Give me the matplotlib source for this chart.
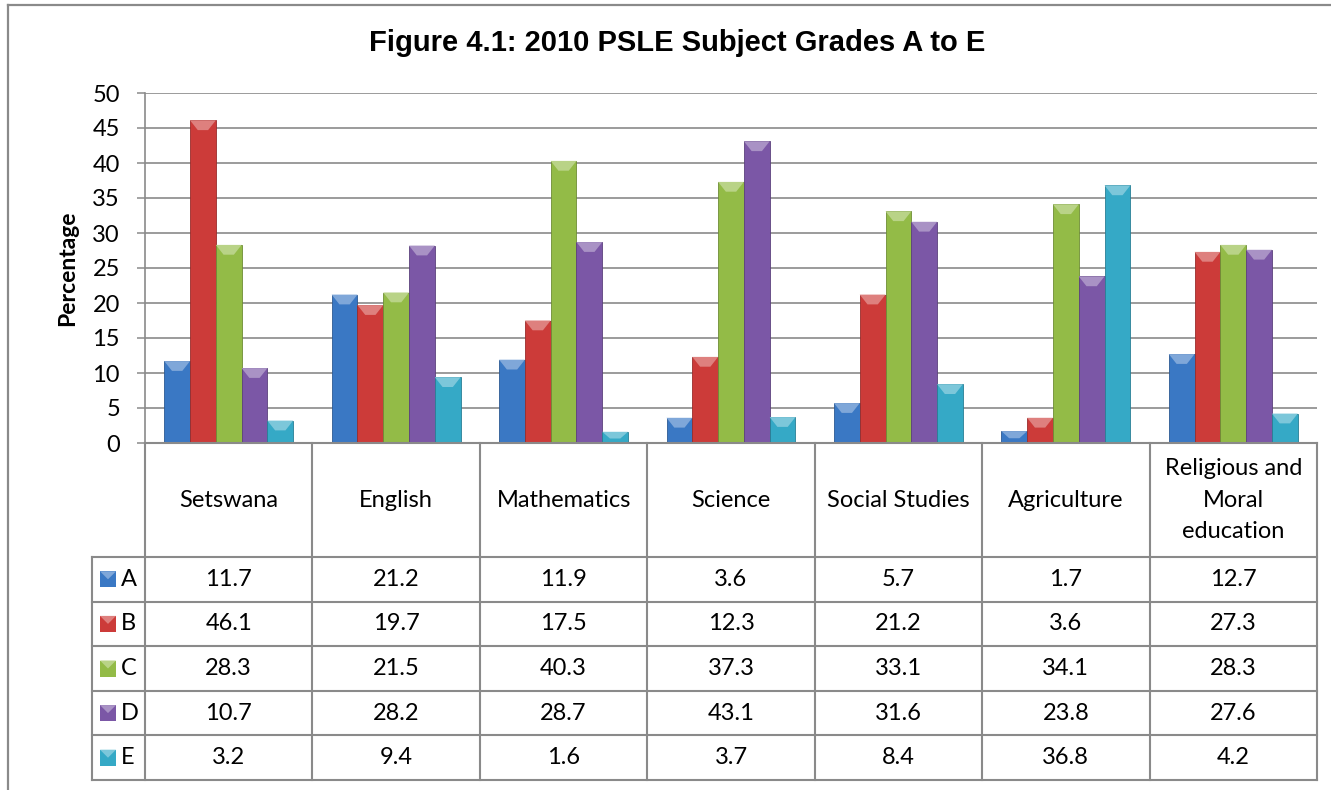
import numpy as np
import matplotlib
matplotlib.use('Agg')
import matplotlib.pyplot as plt
from matplotlib.patches import Rectangle, Polygon
from matplotlib.lines import Line2D
from matplotlib.colors import to_rgb

# data
subjects = ['Setswana', 'English', 'Mathematics', 'Science', 'Social Studies',
            'Agriculture', 'Religious and\nMoral\neducation']
grades = ['A', 'B', 'C', 'D', 'E']
grade_A = [11.7, 21.2, 11.9, 3.6, 5.7, 1.7, 12.7]
grade_B = [46.1, 19.7, 17.5, 12.3, 21.2, 3.6, 27.3]
grade_C = [28.3, 21.5, 40.3, 37.3, 33.1, 34.1, 28.3]
grade_D = [10.7, 28.2, 28.7, 43.1, 31.6, 23.8, 27.6]
grade_E = [3.2, 9.4, 1.6, 3.7, 8.4, 36.8, 4.2]
yticks = [0, 5, 10, 15, 20, 25, 30, 35, 40, 45, 50]

series = [grade_A, grade_B, grade_C, grade_D, grade_E]
colors = ['#3a78c4', '#cc3b39', '#93bb47', '#7b57a6', '#35a9c6']

plt.rcParams['font.family'] = ['Lato', 'DejaVu Sans']
grid_col = '#8a8a8a'
fs = 17

W, H = 1331, 790
def fx(px):
    return px / W
def fy(py):
    return 1 - py / H

fig = plt.figure(figsize=(W / 100, H / 100), dpi=100)

def lighter(c, f):
    r, g, b = to_rgb(c)
    return (r + (1 - r) * f, g + (1 - g) * f, b + (1 - b) * f)

def darker(c, f):
    r, g, b = to_rgb(c)
    return (r * (1 - f), g * (1 - f), b * (1 - f))

# chart frame (left and top edge)
fig.add_artist(Line2D([fx(8), fx(8)], [fy(790), fy(5)], color=grid_col, lw=1.6))
fig.add_artist(Line2D([fx(8), fx(1331)], [fy(5), fy(5)], color=grid_col, lw=1.6))

fig.text(fx(677), fy(43), 'Figure 4.1: 2010 PSLE Subject Grades A to E',
         ha='center', va='center', fontsize=21, fontweight='bold',
         family='Liberation Sans')

# bar chart
ax = fig.add_axes([fx(145), fy(443), (1317 - 145) / W, (443 - 93) / H])
ax.set_xlim(-0.5, 6.5)
ax.set_ylim(0, 50)
ax.set_yticks(yticks)
ax.set_yticklabels([str(t) for t in yticks], fontsize=fs)
ax.set_xticks([])
ax.tick_params(axis='y', length=6, width=1.1, color=grid_col, pad=12)
for s in ['top', 'right', 'bottom']:
    ax.spines[s].set_visible(False)
ax.spines['left'].set_color(grid_col)
ax.spines['left'].set_linewidth(1.2)
ax.yaxis.grid(True, color=grid_col, lw=1.2)
ax.set_axisbelow(True)
ax.set_ylabel('Percentage', fontsize=16.5, fontweight='bold', labelpad=10)

bw = 0.154
x = np.arange(len(subjects))
for i, vals in enumerate(series):
    xs = x + (i - 2) * bw
    ax.bar(xs, vals, width=bw, color=colors[i], edgecolor=darker(colors[i], 0.25),
           lw=0.6, zorder=3)
    for xc, v in zip(xs, vals):
        d = min(1.4, v * 0.6)
        ax.add_patch(Polygon([[xc - bw / 2, v], [xc + bw / 2, v], [xc + bw / 2 - bw * 0.3, v - d],
                              [xc - bw / 2 + bw * 0.3, v - d]], closed=True,
                             color=lighter(colors[i], 0.35), lw=0, zorder=4))

# data table
tab = fig.add_axes([fx(92), fy(780), (1317 - 92) / W, (780 - 443) / H])
cw = 167.43
xl = -0.5 - 53 / cw
tab.set_xlim(xl, 6.5)
tab.set_ylim(337, 0)
tab.axis('off')
hdr = 114
rh = (337 - hdr) / 5

for k in range(8):
    tab.plot([k - 0.5, k - 0.5], [0, 337], color=grid_col, lw=1.5, clip_on=False)
tab.plot([xl, xl], [hdr, 337], color=grid_col, lw=1.5, clip_on=False)
tab.plot([-0.5, 6.5], [0, 0], color=grid_col, lw=1.5, clip_on=False)
for r in range(6):
    tab.plot([xl, 6.5], [hdr + r * rh] * 2, color=grid_col, lw=1.5, clip_on=False)

for j, name in enumerate(subjects):
    tab.text(j, hdr / 2, name, ha='center', va='center', fontsize=fs, linespacing=1.6)

for i, vals in enumerate(series):
    yc = hdr + (i + 0.5) * rh
    for j, v in enumerate(vals):
        tab.text(j, yc, '%.1f' % v, ha='center', va='center', fontsize=fs)
    kx = -0.5 + (100 - 145) / cw
    kw = 16 / cw
    tab.add_patch(Rectangle((kx, yc - 8), kw, 16, color=colors[i], lw=0))
    tab.add_patch(Polygon([[kx, yc - 8], [kx + kw, yc - 8], [kx + kw / 2, yc]],
                          closed=True, color=lighter(colors[i], 0.35), lw=0))
    tab.text(-0.5 + (121 - 145) / cw, yc, grades[i], ha='left', va='center', fontsize=fs)

fig.savefig('out.png', dpi=100, facecolor='white')
